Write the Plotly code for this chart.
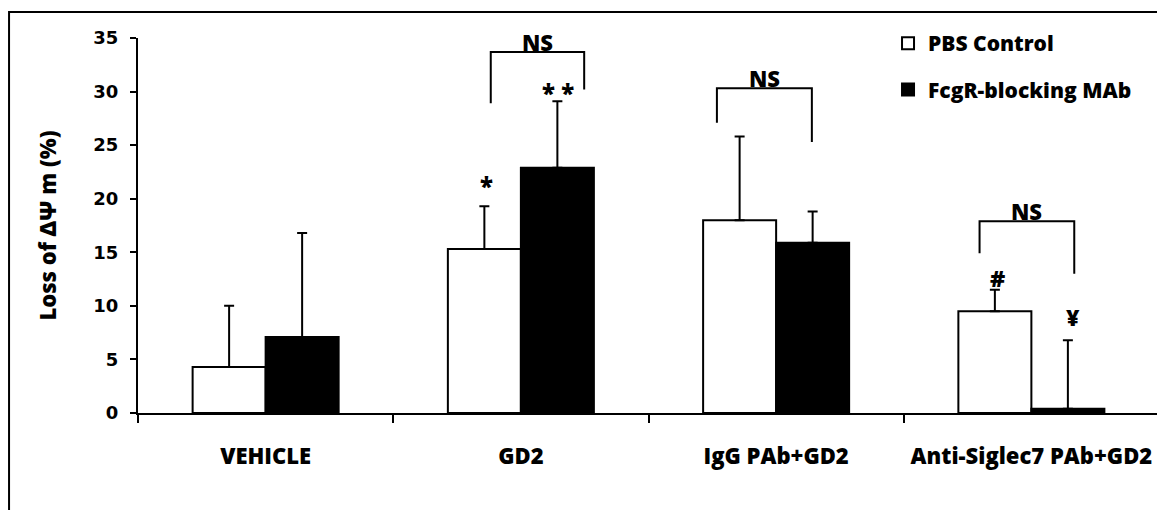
import plotly.graph_objects as go

# ---- data ----
categories = ["VEHICLE", "GD2", "IgG PAb+GD2", "Anti-Siglec7 PAb+GD2"]
pbs_values = [4.3, 15.3, 18.0, 9.5]
pbs_errors = [5.7, 4.0, 7.8, 2.0]
mab_values = [7.1, 22.9, 15.9, 0.4]
mab_errors = [9.7, 6.2, 2.9, 6.4]
series_names = ["PBS Control", "FcgR-blocking MAb"]
y_ticks = [0, 5, 10, 15, 20, 25, 30, 35]

# significance markers: (category index, offset, y, text, size)
marks = [
    (1, -0.135, 21.2, "*", 24),
    (1, 0.147, 29.9, "* *", 24),
    (3, -0.131, 12.6, "#", 23),
    (3, 0.163, 9.0, "¥", 23),
]
# NS brackets: (x_left, x_right, y_top, y_left_bottom, y_right_bottom)
brackets = [
    (0.882, 1.248, 33.7, 28.9, 30.2),
    (1.768, 2.140, 30.3, 27.1, 25.3),
    (2.797, 3.168, 17.9, 14.9, 13.0),
]

FONT = "Open Sans"
W = 800


def f(size, family=FONT):
    return dict(family=family, size=size, color="black", weight=W)


fig = go.Figure()
fig.add_trace(go.Bar(
    x=categories, y=pbs_values, name=series_names[0],
    marker=dict(color="white", line=dict(color="black", width=2)),
    error_y=dict(type="data", array=pbs_errors, arrayminus=[0]*4, symmetric=False,
                 color="black", thickness=2, width=5),
    legendgroup="a",
))
fig.add_trace(go.Bar(
    x=categories, y=mab_values, name=series_names[1],
    marker=dict(color="black", line=dict(color="black", width=2)),
    error_y=dict(type="data", array=mab_errors, arrayminus=[0]*4, symmetric=False,
                 color="black", thickness=2, width=5),
    legendgroup="b",
))

shapes = []
annotations = []
for (xl, xr, yt, ybl, ybr) in brackets:
    shapes.append(dict(type="path", xref="x", yref="y",
                       path=f"M {xl} {ybl} L {xl} {yt} L {xr} {yt} L {xr} {ybr}",
                       line=dict(color="black", width=2)))
    annotations.append(dict(x=(xl + xr) / 2, y=yt, xref="x", yref="y", text="NS",
                            showarrow=False, yanchor="bottom", yshift=-7,
                            font=f(22)))
for (ci, off, yy, txt, sz) in marks:
    annotations.append(dict(x=ci + off, y=yy, xref="x", yref="y", text=txt,
                            showarrow=False, font=f(sz)))

# outer frame
shapes.append(dict(type="rect", xref="paper", yref="paper", x0=-0.1263, x1=1.2,
                   y0=-0.6, y1=1.0693, line=dict(color="black", width=2),
                   fillcolor="rgba(0,0,0,0)", layer="below"))

fig.update_layout(
    width=1157, height=502,
    margin=dict(l=130, r=6, t=30, b=97, autoexpand=False),
    paper_bgcolor="white", plot_bgcolor="white",
    barmode="group", bargap=0.428, bargroupgap=0,
    shapes=shapes, annotations=annotations,
    showlegend=True,
    legend=dict(x=0.7346, y=1.04, xanchor="left", yanchor="top",
                font=f(21), tracegroupgap=16, bgcolor="rgba(0,0,0,0)"),
    font=dict(family=FONT, color="black"),
)
fig.update_xaxes(
    type="category", showline=True, linecolor="black", linewidth=2,
    ticks="outside", tickson="boundaries", ticklen=8, tickwidth=2, tickcolor="black",
    tickfont=f(22), ticklabelstandoff=23, tickangle=0, automargin=False,
    showgrid=False, zeroline=False, range=[-0.5, 3.5],
    tickvals=categories, ticktext=categories,
)
fig.update_yaxes(
    range=[0, 35], tickvals=y_ticks,
    ticktext=[str(v) for v in y_ticks],
    showline=True, linecolor="black", linewidth=2,
    ticks="outside", ticklen=6, tickwidth=2, tickcolor="black",
    tickfont=dict(family="DejaVu Sans", size=18, color="black", weight="bold"),
    ticklabelstandoff=8, automargin=False,
    showgrid=False, zeroline=False,
    title=dict(text="Loss of ΔΨ m (%)", font=f(22), standoff=31),
)

fig.write_html("out.html")
